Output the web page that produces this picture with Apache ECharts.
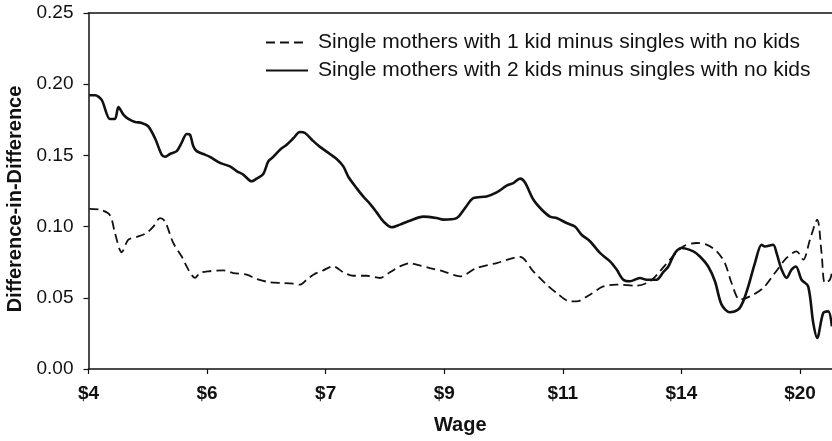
<!DOCTYPE html>
<html>
<head>
<meta charset="utf-8">
<script src="https://cdn.jsdelivr.net/npm/echarts@6/dist/echarts.min.js"></script>
<style>
  html, body { margin: 0; padding: 0; background: #fff; }
  #chart { width: 832px; height: 441px; }
</style>
</head>
<body>
<div id="chart"></div>
<script>
// wage tick labels, evenly spaced positions 0..6
const wageLabels = ['$4', '$6', '$7', '$9', '$11', '$14', '$20']

// single mothers with 1 kid minus singles with no kids (dashed)
const oneKidX = [0.007, 0.097, 0.181, 0.223, 0.280, 0.336, 0.406, 0.490, 0.547, 0.603, 0.645, 0.715, 0.786, 0.842, 0.898, 0.940, 1.010, 1.137, 1.221, 1.334, 1.418, 1.530, 1.643, 1.727, 1.783, 1.840, 1.896, 1.980, 2.064, 2.149, 2.233, 2.346, 2.458, 2.542, 2.627, 2.711, 2.767, 2.879, 2.992, 3.133, 3.273, 3.442, 3.639, 3.751, 3.864, 3.948, 4.060, 4.117, 4.229, 4.341, 4.454, 4.622, 4.735, 4.819, 4.903, 5.015, 5.128, 5.212, 5.297, 5.367, 5.423, 5.493, 5.578, 5.690, 5.788, 5.887, 5.971, 6.027, 6.084, 6.145, 6.182, 6.210, 6.252, 6.269]
const oneKidY = [0.1124, 0.1119, 0.108, 0.0955, 0.082, 0.0908, 0.0927, 0.0955, 0.100, 0.106, 0.1037, 0.0885, 0.079, 0.0698, 0.064, 0.0674, 0.0686, 0.0693, 0.0674, 0.0662, 0.0632, 0.0609, 0.0604, 0.0599, 0.0592, 0.0627, 0.0662, 0.0693, 0.0721, 0.0679, 0.0655, 0.0655, 0.0639, 0.0679, 0.0721, 0.0744, 0.0733, 0.0709, 0.0686, 0.0651, 0.0709, 0.0744, 0.0787, 0.0686, 0.0592, 0.0534, 0.0475, 0.0475, 0.0522, 0.058, 0.0592, 0.0585, 0.0616, 0.0686, 0.0768, 0.0861, 0.0885, 0.0873, 0.0826, 0.0744, 0.0604, 0.0487, 0.051, 0.0569, 0.0674, 0.078, 0.0826, 0.0768, 0.0908, 0.1049, 0.0815, 0.0604, 0.0627, 0.068]

// single mothers with 2 kids minus singles with no kids (solid)
const twoKidX = [0.007, 0.055, 0.111, 0.181, 0.223, 0.252, 0.294, 0.336, 0.392, 0.448, 0.504, 0.561, 0.617, 0.645, 0.687, 0.744, 0.786, 0.828, 0.856, 0.884, 0.912, 0.968, 1.024, 1.109, 1.193, 1.249, 1.305, 1.376, 1.418, 1.474, 1.516, 1.558, 1.615, 1.671, 1.727, 1.783, 1.826, 1.896, 1.952, 2.036, 2.093, 2.149, 2.191, 2.261, 2.318, 2.374, 2.430, 2.486, 2.556, 2.627, 2.697, 2.824, 2.936, 2.992, 3.104, 3.175, 3.245, 3.357, 3.442, 3.526, 3.583, 3.639, 3.681, 3.751, 3.821, 3.892, 3.948, 4.032, 4.102, 4.158, 4.229, 4.313, 4.398, 4.454, 4.510, 4.566, 4.650, 4.707, 4.791, 4.847, 4.890, 4.946, 5.002, 5.100, 5.156, 5.226, 5.283, 5.339, 5.409, 5.479, 5.521, 5.564, 5.620, 5.676, 5.704, 5.774, 5.802, 5.845, 5.887, 5.929, 5.966, 6.013, 6.069, 6.112, 6.145, 6.196, 6.238, 6.269]
const twoKidY = [0.1922, 0.1922, 0.189, 0.1756, 0.1756, 0.184, 0.1786, 0.1756, 0.1735, 0.1728, 0.1704, 0.162, 0.1505, 0.149, 0.151, 0.153, 0.159, 0.165, 0.1645, 0.1564, 0.153, 0.151, 0.149, 0.1447, 0.1423, 0.139, 0.1365, 0.1318, 0.1337, 0.137, 0.1458, 0.149, 0.154, 0.1575, 0.162, 0.1664, 0.1657, 0.160, 0.156, 0.151, 0.1475, 0.1423, 0.135, 0.127, 0.121, 0.116, 0.110, 0.1037, 0.0995, 0.1014, 0.1037, 0.107, 0.106, 0.1049, 0.106, 0.113, 0.120, 0.1212, 0.124, 0.1287, 0.1306, 0.1337, 0.131, 0.119, 0.112, 0.107, 0.106, 0.1025, 0.100, 0.0943, 0.0897, 0.0815, 0.0756, 0.0698, 0.0627, 0.0616, 0.0639, 0.0627, 0.0627, 0.068, 0.072, 0.0815, 0.085, 0.0826, 0.079, 0.072, 0.0616, 0.0452, 0.0398, 0.0417, 0.0475, 0.058, 0.0744, 0.0873, 0.086, 0.0873, 0.0815, 0.0698, 0.064, 0.0698, 0.072, 0.0627, 0.058, 0.0323, 0.0218, 0.0393, 0.0405, 0.030]

const seriesNames = [
    'Single mothers with 1 kid minus singles with no kids',
    'Single mothers with 2 kids minus singles with no kids'
]

const pair = (xs, ys) => xs.map((x, i) => [x, ys[i]])

const chart = echarts.init(document.getElementById('chart'))
const fontFamily = '"Liberation Sans", Arial, sans-serif'

chart.setOption({
    backgroundColor: '#fff',
    animation: false,
    textStyle: { fontFamily: fontFamily, color: '#111' },
    grid: { left: 88.5, right: 0, top: 13, bottom: 72, containLabel: false, outerBoundsMode: 'none' },
    legend: {
        left: 260,
        top: 27,
        orient: 'vertical',
        itemWidth: 42,
        itemHeight: 2,
        itemGap: 7,
        itemStyle: { opacity: 0 },
        textStyle: { fontSize: 21, lineHeight: 20, color: '#111', fontFamily: fontFamily, padding: [0, 0, 0, 5] },
        data: seriesNames
    },
    xAxis: [
        {
            type: 'value',
            min: 0,
            max: 6.27,
            interval: 1,
            name: 'Wage',
            nameLocation: 'middle',
            nameGap: 46,
            nameTextStyle: { fontSize: 20, fontWeight: 'bold', color: '#111' },
            axisLine: { show: true, lineStyle: { color: '#111', width: 1.5 } },
            axisTick: { show: true, length: 5, lineStyle: { color: '#111', width: 1.2 } },
            splitLine: { show: false },
            axisLabel: {
                fontSize: 19,
                fontWeight: 'bold',
                color: '#111',
                margin: 15,
                showMaxLabel: false,
                formatter: v => wageLabels[Math.round(v)] || ''
            }
        },
        {
            type: 'value',
            position: 'top',
            min: 0,
            max: 6.27,
            axisLine: { show: true, lineStyle: { color: '#111', width: 1.5 } },
            axisTick: { show: false },
            axisLabel: { show: false },
            splitLine: { show: false }
        }
    ],
    yAxis: {
        type: 'value',
        min: 0,
        max: 0.25,
        interval: 0.05,
        name: 'Difference-in-Difference',
        nameLocation: 'middle',
        nameGap: 61,
        nameTextStyle: { fontSize: 20, fontWeight: 'bold', color: '#111', padding: [0, 16, 0, 0] },
        axisLine: { show: true, lineStyle: { color: '#111', width: 1.5 } },
        axisTick: { show: true, length: 5, lineStyle: { color: '#111', width: 1.2 } },
        splitLine: { show: false },
        axisLabel: {
            fontSize: 19,
            color: '#111',
            margin: 15,
            formatter: v => v.toFixed(2)
        }
    },
    series: [
        {
            name: seriesNames[0],
            type: 'line',
            symbol: 'none',
            smooth: 0.3,
            data: pair(oneKidX, oneKidY),
            lineStyle: { color: '#111', width: 1.8, type: [9, 5] },
            itemStyle: { color: '#111' }
        },
        {
            name: seriesNames[1],
            type: 'line',
            symbol: 'none',
            smooth: 0.3,
            data: pair(twoKidX, twoKidY),
            lineStyle: { color: '#111', width: 2.6 },
            itemStyle: { color: '#111' }
        }
    ]
})
</script>
</body>
</html>
